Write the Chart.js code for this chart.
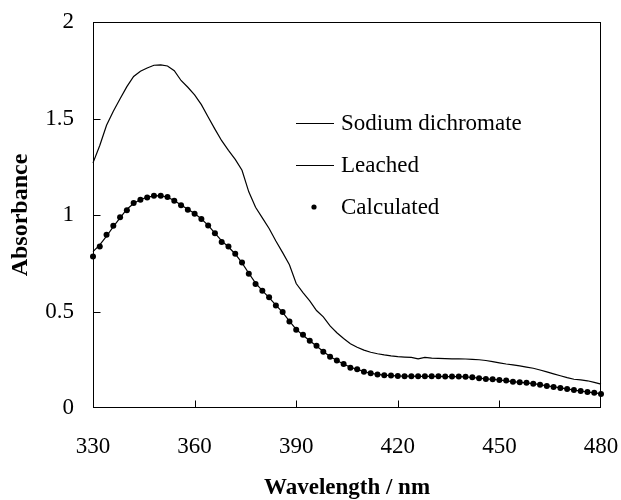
<!DOCTYPE html>
<html><head><meta charset="utf-8">
<script src="https://cdn.jsdelivr.net/npm/chart.js@4.4.1/dist/chart.umd.min.js"></script>
<style>html,body{margin:0;padding:0;background:#fff;}canvas{display:block;}</style>
</head><body>
<canvas id="c" width="621" height="500"></canvas>
<script>
const wavelengths = [330,332,334,336,338,340,342,344,346,348,350,352,354,356,358,360,362,364,366,368,370,372,374,376,378,380,382,384,386,388,390,392,394,396,398,400,402,404,406,408,410,412,414,416,418,420,422,424,426,428,430,432,434,436,438,440,442,444,446,448,450,452,454,456,458,460,462,464,466,468,470,472,474,476,478,480];
const sodiumDichromate = [1.270,1.360,1.465,1.538,1.602,1.665,1.718,1.745,1.762,1.776,1.778,1.772,1.748,1.697,1.662,1.622,1.572,1.508,1.445,1.385,1.335,1.288,1.232,1.120,1.040,0.985,0.930,0.865,0.805,0.742,0.645,0.598,0.555,0.505,0.472,0.425,0.390,0.360,0.333,0.315,0.300,0.289,0.281,0.275,0.270,0.266,0.264,0.262,0.255,0.262,0.258,0.257,0.256,0.255,0.255,0.254,0.252,0.250,0.246,0.240,0.234,0.228,0.223,0.218,0.212,0.206,0.197,0.187,0.177,0.167,0.157,0.149,0.146,0.141,0.133,0.124];
const leached = [0.810,0.845,0.890,0.940,0.985,1.030,1.060,1.080,1.092,1.099,1.100,1.092,1.075,1.052,1.030,1.008,0.980,0.946,0.906,0.866,0.834,0.798,0.752,0.698,0.647,0.608,0.572,0.533,0.495,0.450,0.407,0.377,0.348,0.321,0.293,0.267,0.246,0.228,0.211,0.200,0.189,0.180,0.174,0.170,0.168,0.166,0.165,0.165,0.164,0.164,0.164,0.164,0.163,0.163,0.163,0.161,0.158,0.155,0.151,0.148,0.145,0.141,0.137,0.133,0.130,0.126,0.121,0.115,0.110,0.104,0.099,0.093,0.088,0.083,0.078,0.074];
const calculated = [0.785,0.837,0.898,0.944,0.988,1.024,1.062,1.079,1.091,1.100,1.100,1.093,1.074,1.050,1.027,1.007,0.979,0.946,0.905,0.860,0.837,0.799,0.754,0.695,0.643,0.607,0.574,0.531,0.497,0.448,0.405,0.379,0.348,0.323,0.292,0.266,0.246,0.228,0.209,0.201,0.188,0.180,0.173,0.170,0.168,0.166,0.165,0.164,0.164,0.164,0.164,0.164,0.163,0.163,0.163,0.162,0.159,0.154,0.150,0.149,0.145,0.142,0.136,0.133,0.131,0.126,0.121,0.114,0.109,0.104,0.099,0.093,0.088,0.083,0.079,0.073];
const xTicks = [330,360,390,420,450,480];
const yTicks = [0,0.5,1,1.5,2];
const seriesLabels = ['Sodium dichromate','Leached','Calculated'];
const xTitle = 'Wavelength / nm';
const yTitle = 'Absorbance';

const FONT = '"Liberation Serif", "Times New Roman", serif';
const toXY = ys => wavelengths.map((x, i) => ({x: x, y: ys[i]}));
const noPad = s => { s.paddingLeft = 0; s.paddingRight = 0; s.paddingTop = 0; s.paddingBottom = 0; };

const framePlugin = {
  id: 'frame',
  afterDatasetsDraw(chart) {
    const {ctx, chartArea: a, scales} = chart;
    ctx.save();
    ctx.strokeStyle = '#000';
    ctx.lineWidth = 1;
    const L = Math.round(a.left) + 0.5, R = Math.round(a.right) - 0.5;
    const T = Math.round(a.top) + 0.5, B = Math.round(a.bottom) - 0.5;
    ctx.strokeRect(L, T, R - L, B - T);
    ctx.beginPath();
    xTicks.slice(1, -1).forEach(v => {
      const px = Math.round(scales.x.getPixelForValue(v)) + 0.5;
      ctx.moveTo(px, B); ctx.lineTo(px, B - 7);
    });
    yTicks.slice(1, -1).forEach(v => {
      const py = Math.round(scales.y.getPixelForValue(v)) + 0.5;
      ctx.moveTo(L, py); ctx.lineTo(L + 7, py);
    });
    ctx.stroke();
    // legend
    const lx = a.left + 203, ty = a.top + 101, dy = 42;
    ctx.font = '23px ' + FONT;
    ctx.fillStyle = '#000';
    ctx.textBaseline = 'middle';
    ctx.textAlign = 'left';
    chart.data.datasets.forEach((ds, i) => {
      const yy = ty + i * dy;
      if (ds.showLine === false) {
        ctx.beginPath();
        ctx.arc(lx + 18, yy, 2.6, 0, Math.PI * 2);
        ctx.fill();
      } else {
        ctx.beginPath();
        ctx.moveTo(lx, Math.round(yy) + 0.5); ctx.lineTo(lx + 38, Math.round(yy) + 0.5);
        ctx.stroke();
      }
      ctx.fillText(ds.label, lx + 45, yy + 1);
    });
    ctx.restore();
  }
};

new Chart(document.getElementById('c'), {
  type: 'scatter',
  data: {
    datasets: [
      {label: seriesLabels[0], data: toXY(sodiumDichromate), showLine: true, borderColor: '#000', borderWidth: 1.2, pointRadius: 0, tension: 0, clip: false},
      {label: seriesLabels[1], data: toXY(leached), showLine: true, borderColor: '#000', borderWidth: 1.2, pointRadius: 0, tension: 0, clip: false},
      {label: seriesLabels[2], data: toXY(calculated), showLine: false, backgroundColor: '#000', borderColor: '#000', borderWidth: 0, pointRadius: 3, clip: false}
    ]
  },
  options: {
    responsive: false,
    animation: false,
    layout: {padding: {top: 22, right: 20, left: 0, bottom: 0}},
    plugins: {legend: {display: false}, tooltip: {enabled: false}},
    scales: {
      x: {
        type: 'linear', min: 330, max: 480,
        afterBuildTicks: s => { s.ticks = xTicks.map(v => ({value: v})); },
        afterFit: s => { s.height = 92; noPad(s); },
        grid: {display: false, drawTicks: false},
        border: {display: false},
        ticks: {font: {family: FONT, size: 23}, color: '#000', padding: 25, maxRotation: 0, autoSkip: false, callback: v => String(v)},
        title: {display: true, text: xTitle, color: '#000', font: {family: FONT, size: 23, weight: 'bold', lineHeight: 1}, padding: {top: 0, bottom: 0}}
      },
      y: {
        min: 0, max: 2,
        afterBuildTicks: s => { s.ticks = yTicks.map(v => ({value: v})); },
        afterFit: s => { s.width = 93; noPad(s); },
        grid: {display: false, drawTicks: false},
        border: {display: false},
        ticks: {font: {family: FONT, size: 23}, color: '#000', padding: 19, autoSkip: false, callback: v => String(v)},
        title: {display: true, text: yTitle, color: '#000', font: {family: FONT, size: 24, weight: 'bold', lineHeight: 1}, padding: {top: 9, bottom: 0}}
      }
    }
  },
  plugins: [framePlugin]
});
</script>
</body></html>
